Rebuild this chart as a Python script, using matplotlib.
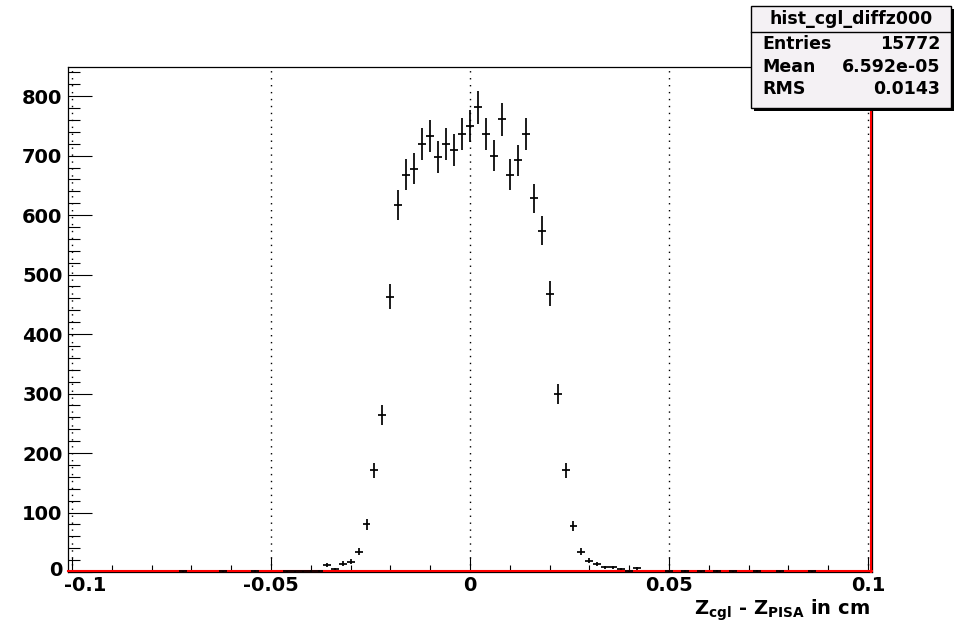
import numpy as np
import matplotlib
matplotlib.use("Agg")
import matplotlib.pyplot as plt
from matplotlib.patches import Rectangle
from matplotlib.ticker import MultipleLocator, FixedLocator, FixedFormatter
from matplotlib.transforms import ScaledTranslation, offset_copy

plt.rcParams['font.family'] = ['DejaVu Sans']
plt.rcParams['mathtext.fontset'] = 'dejavusans'

# ---------------------------------------------------------------------------
# hist_cgl_diffz000 : 101 bins of width 0.002 cm, centred on -0.1 ... 0.1
# ---------------------------------------------------------------------------
BIN_WIDTH = 0.002
BIN_CENTERS = np.round(np.arange(-50, 51) * BIN_WIDTH, 4)

# non-empty bins: bin index -> entries
FILLED_BINS = [14, 19, 23, 27, 28, 29, 30,
               31, 32, 33, 34, 35, 36, 37, 38, 39,
               40, 41, 42, 43, 44, 45, 46, 47, 48, 49, 50, 51,
               52, 53, 54, 55, 56, 57, 58, 59, 60, 61, 62,
               63, 64, 65, 66, 67, 68, 69, 70, 71,
               75, 77, 79, 81, 83, 86, 89, 93]
FILLED_COUNTS = [1, 1, 2, 1, 1, 1, 2,
                 2, 11, 5, 14, 17, 34, 80, 171, 264,
                 463, 617, 668, 678, 720, 733, 698, 719, 709, 736, 750, 781,
                 736, 700, 761, 668, 692, 736, 628, 574, 468, 299, 171,
                 77, 34, 19, 13, 8, 8, 5, 1, 6,
                 1, 2, 1, 2, 1, 2, 1, 1]

HIST_NAME = 'hist_cgl_diffz000'
STAT_LABELS = ['Entries', 'Mean', 'RMS']
STAT_VALUES = ['15772', '6.592e-05', '0.0143']

X_MAJOR = [-0.1, -0.05, 0.0, 0.05, 0.1]
X_MAJOR_LABELS = ['-0.1', '-0.05', '0', '0.05', '0.1']
Y_MAJOR = [0, 100, 200, 300, 400, 500, 600, 700, 800]

W, H = 963, 627


def fx(px):
    return px / W


def fy(py):
    return 1 - py / H


counts = np.zeros(len(BIN_CENTERS))
counts[FILLED_BINS] = FILLED_COUNTS
mask = counts > 0

fig = plt.figure(figsize=(W / 100, H / 100), dpi=100)
fig.patch.set_facecolor('white')
ax = fig.add_axes([fx(68), fy(572), fx(872) - fx(68), fy(67) - fy(572)])

# second (empty) histogram drawn in red, hugging the frame
up = offset_copy(ax.transData, fig=fig, x=0, y=1.5, units='dots')
left = offset_copy(ax.transData, fig=fig, x=-1.5, y=0, units='dots')
ax.plot([-0.101, 0.101], [0, 0], color='red', lw=1.5, transform=up,
        zorder=2.6, clip_on=False)
ax.plot([0.101, 0.101], [0, 849], color='red', lw=1.5, transform=left,
        zorder=2.6, clip_on=False)

ax.errorbar(BIN_CENTERS[mask], counts[mask], yerr=np.sqrt(counts[mask]),
            xerr=BIN_WIDTH / 2, fmt='none', ecolor='black',
            elinewidth=1.25, capsize=0, zorder=3)

ax.set_xlim(-0.101, 0.101)
ax.set_ylim(0, 849)

ax.xaxis.set_major_locator(FixedLocator(X_MAJOR))
ax.xaxis.set_major_formatter(FixedFormatter(X_MAJOR_LABELS))
ax.xaxis.set_minor_locator(MultipleLocator(0.01))
ax.yaxis.set_major_locator(FixedLocator(Y_MAJOR))
ax.yaxis.set_minor_locator(MultipleLocator(20))

ax.grid(axis='x', which='major', color='black', lw=1.0,
        linestyle=(0, (1, 4)))

ax.tick_params(axis='x', which='major', direction='in', length=10.8,
               width=0.8, pad=3, labelsize=14)
ax.tick_params(axis='x', which='minor', direction='in', length=5.4,
               width=0.8)
ax.tick_params(axis='y', which='major', direction='in', length=17.3,
               width=0.8, pad=4, labelsize=14)
ax.tick_params(axis='y', which='minor', direction='in', length=8.6,
               width=0.8)
for lbl in ax.get_xticklabels() + ax.get_yticklabels():
    lbl.set_fontweight('bold')
for s in ax.spines.values():
    s.set_linewidth(0.9)
    s.set_zorder(2.5)

# first x label starts just left of its tick, clear of the "0" on the y axis
first = ax.get_xticklabels()[0]
first.set_horizontalalignment('left')
first.set_transform(first.get_transform()
                    + ScaledTranslation(-8 / 100, 0, fig.dpi_scale_trans))
ylab0 = ax.get_yticklabels()[0]
ylab0.set_transform(ylab0.get_transform()
                    + ScaledTranslation(0, 3 / 100, fig.dpi_scale_trans))

fig.text(fx(870), fy(615), r'$\mathbf{Z_{cgl}}$ - $\mathbf{Z_{PISA}}$ in cm',
         ha='right', va='baseline', fontsize=14, fontweight='bold')

# statistics box with drop shadow
tf = fig.transFigure
fig.patches.append(Rectangle((fx(754), fy(111)), fx(954) - fx(754),
                             fy(9) - fy(111), transform=tf,
                             facecolor='black', edgecolor='none', zorder=5))
fig.patches.append(Rectangle((fx(751), fy(108)), fx(951) - fx(751),
                             fy(6) - fy(108), transform=tf,
                             facecolor='#f4f1f4', edgecolor='black',
                             lw=1.0, zorder=6))
fig.lines.append(plt.Line2D([fx(751), fx(951)], [fy(32), fy(32)],
                            transform=tf, color='black', lw=1.0, zorder=7))
fig.text(fx(851), fy(19), HIST_NAME, ha='center', va='center',
         fontsize=12.5, fontweight='bold', zorder=8)
for row_y, name, val in zip([44, 67, 89], STAT_LABELS, STAT_VALUES):
    fig.text(fx(762), fy(row_y), name, ha='left', va='center',
             fontsize=12.5, fontweight='bold', zorder=8)
    fig.text(fx(940), fy(row_y), val, ha='right', va='center',
             fontsize=12.5, fontweight='bold', zorder=8)

fig.savefig('out.png', dpi=100, facecolor='white')
